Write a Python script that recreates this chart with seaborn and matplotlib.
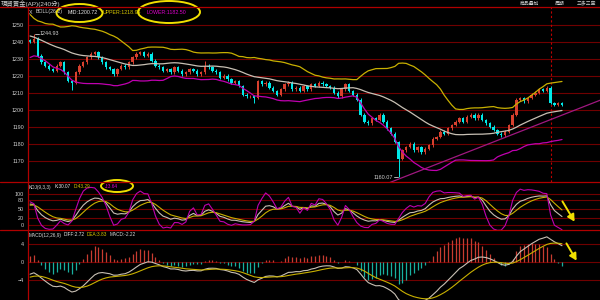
import numpy as np
import pandas as pd
import matplotlib
matplotlib.use("Agg")
import matplotlib.pyplot as plt
import seaborn as sns
from matplotlib.patches import Ellipse, FancyArrowPatch
from matplotlib.lines import Line2D
from matplotlib import font_manager as fm

sns.set_style("dark")
_names = {f.name for f in fm.fontManager.ttflist}
NARROW = "Liberation Sans Narrow" in _names
LAT = "Liberation Sans Narrow" if NARROW else "Liberation Sans"
plt.rcParams['font.family'] = [LAT, 'Noto Sans CJK TC', 'DejaVu Sans']
SCALE = 1.22 if NARROW else 1.0

# ---------------- data ----------------
title_text = "現貨黃金(AP)(240分)"
menu_items = ["商品疊加", "周期", "三多三空"]
menu_x = [520, 555, 577]

# closes before the visible window (only used to warm up the indicators)
pre_closes = [1238, 1240, 1241, 1243, 1242, 1244, 1246, 1245, 1247, 1249,
              1248, 1250, 1252, 1251, 1253, 1255, 1254, 1256, 1258, 1257,
              1259, 1261, 1260, 1262, 1263, 1261, 1262, 1264, 1262, 1260,
              1261, 1259, 1258, 1257,
              1258, 1259, 1256, 1253, 1254, 1251, 1248, 1249, 1246, 1243,
              1244, 1241, 1239, 1240, 1237, 1236, 1238,
              1237, 1239, 1238, 1240, 1241, 1239, 1240, 1242, 1241]

closes = [1240, 1242, 1232, 1228, 1226, 1224, 1223, 1226, 1228, 1222,
          1217, 1216, 1222, 1226, 1228, 1231, 1233, 1234, 1231, 1228,
          1225, 1224, 1221, 1224, 1226, 1225, 1228, 1231, 1233, 1234,
          1232, 1233, 1229, 1226, 1225, 1223, 1224, 1222, 1225, 1223,
          1221, 1222, 1224, 1223, 1221, 1222, 1226, 1225, 1223, 1222,
          1219, 1220, 1218, 1216, 1217, 1214, 1209, 1208, 1208, 1207,
          1217, 1215, 1216, 1213, 1211, 1209, 1212, 1215, 1216, 1212,
          1213, 1211, 1214, 1212, 1215, 1214, 1216, 1215, 1214, 1213,
          1210, 1208, 1212, 1215, 1211, 1209, 1206, 1197, 1193, 1192,
          1195, 1194, 1197, 1193, 1189, 1186, 1181, 1171, 1176, 1178,
          1180, 1176, 1178, 1175, 1177, 1179, 1183, 1184, 1187, 1186,
          1189, 1191, 1193, 1195, 1193, 1196, 1197, 1195, 1197, 1194,
          1192, 1190, 1188, 1186, 1185, 1187, 1191, 1197, 1206, 1207,
          1205, 1207, 1209, 1210, 1212, 1211, 1213, 1204, 1203, 1204,
          1203]

extreme_idx = [1, 11, 46, 59, 97]
extreme_val = [1244.93, 1211.5, 1228.5, 1204.0, 1160.07]
extreme_kind = ["high", "low", "high", "low", "low"]

wick = 0.8

main_ticks = [1170, 1180, 1190, 1200, 1210, 1220, 1230, 1240, 1250]
kdj_ticks = [0, 20, 50, 80, 100]
macd_ticks = [-4, 0, 4]

trend_idx = [94, 150]
trend_val = [1156.5, 1205.6]
cursor_idx = 137

boll_legend = [("X", "#d8d8d8"), ("BOLL(26,2)", "#d8d8d8"), ("MID:1200.72", "#e8e8e8"),
               ("UPPER:1218.94", "#d8c800"), ("LOWER:1182.50", "#e000d0")]
boll_legend_x = [29, 36, 68, 103, 147]
kdj_legend = [("KDJ(9,3,3)", "#d8d8d8"), ("K:30.07", "#e8e8e8"), ("D:43.29", "#d8c800"),
              ("J:3.64", "#e000d0")]
kdj_legend_x = [29, 55, 74, 105]
macd_legend = [("MACD(12,26,9)", "#d8d8d8"), ("DIFF:2.72", "#e8e8e8"), ("DEA:3.83", "#d8c800"),
               ("MACD:-2.22", "#d8d8d8")]
macd_legend_x = [29, 62, 84, 105]

# ---------------- indicators ----------------
all_c = np.array(pre_closes + closes, dtype=float)
all_o = np.concatenate([[all_c[0]], all_c[:-1]])
all_h = np.maximum(all_o, all_c) + wick
all_l = np.minimum(all_o, all_c) - wick
npre = len(pre_closes)
for i, v, k in zip(extreme_idx, extreme_val, extreme_kind):
    if k == "high":
        all_h[npre + i] = v
    else:
        all_l[npre + i] = v

s = pd.Series(all_c)
mid = s.rolling(26, min_periods=1).mean()
sd = s.rolling(26, min_periods=1).std(ddof=0)
upper = mid + 2 * sd
lower = mid - 2 * sd

ema12 = s.ewm(span=12, adjust=False).mean()
ema26 = s.ewm(span=26, adjust=False).mean()
diff = ema12 - ema26
dea = diff.ewm(span=9, adjust=False).mean()
hist = 2 * (diff - dea)

llv = pd.Series(all_l).rolling(9, min_periods=1).min()
hhv = pd.Series(all_h).rolling(9, min_periods=1).max()
rsv = (s - llv) / (hhv - llv) * 100
K = np.zeros(len(s)); D = np.zeros(len(s))
kp, dp = 50.0, 50.0
for i in range(len(s)):
    kp = 2 / 3 * kp + rsv.iloc[i] / 3
    dp = 2 / 3 * dp + kp / 3
    K[i], D[i] = kp, dp
J = 3 * K - 2 * D

n = len(closes)
idx = np.arange(n)
w = slice(npre, npre + n)
o, c, h, l = all_o[w], all_c[w], all_h[w], all_l[w]
df = pd.DataFrame({"i": idx, "upper": upper.values[w], "mid": mid.values[w],
                   "lower": lower.values[w], "K": K[w], "D": D[w], "J": J[w],
                   "diff": diff.values[w], "dea": dea.values[w], "hist": hist.values[w]})

# ---------------- figure ----------------
RED_UP = "#d8402e"
TEAL = "#00e8e8"
GRID = "#700000"
BORDER = "#b00000"
TXT = "#d0d0d0"
YEL = "#c8b000"
WHT = "#c8c0b4"
MAG = "#c000b0"
FS_TICK = 3.9 * SCALE
FS_BOLL = 3.8 * SCALE
FS_IND = 3.4 * SCALE

fig = plt.figure(figsize=(6, 3), dpi=100, facecolor="black")
L = 28 / 600
W = 1 - L
def fy(py):
    return 1 - py / 300

ax1 = fig.add_axes([L, fy(181.5), W, (181.5 - 7) / 300])
ax2 = fig.add_axes([L, fy(230), W, (230 - 181.5) / 300])
ax3 = fig.add_axes([L, 0, W, 70 / 300])
xl = (-0.55, 150.0)
for ax in (ax1, ax2, ax3):
    ax.set_facecolor("black")
    ax.set_xlim(*xl)
    ax.set_xticks([])
    for sp in ax.spines.values():
        sp.set_visible(False)
    ax.tick_params(axis="y", length=0, pad=3, labelsize=FS_TICK, labelcolor=TXT)
    ax.grid(False)

ax1.set_ylim(1157.7, 1260.6)
ax2.set_ylim(-18.0, 141.0)
ax3.set_ylim(-8.55, 7.2)

for t in main_ticks:
    ax1.axhline(t, color=GRID, lw=0.8, zorder=0)
for t in kdj_ticks:
    ax2.axhline(t, color=GRID, lw=0.8, zorder=0)
for t in macd_ticks:
    ax3.axhline(t, color=GRID, lw=0.8, zorder=0)
ax1.set_yticks(main_ticks)
ax2.set_yticks(kdj_ticks)
ax3.set_yticks(macd_ticks)

# candles
up = c >= o
cols = np.where(up, RED_UP, TEAL)
body_bot = np.minimum(o, c)
body_h = np.maximum(np.abs(c - o), 0.35)
ax1.vlines(idx, l, h, colors=cols, lw=0.7, zorder=2)
ax1.bar(idx, body_h, bottom=body_bot, width=0.62, color=cols, lw=0, zorder=3)

sns.lineplot(data=df, x="i", y="upper", ax=ax1, color=YEL, lw=0.9, zorder=4)
sns.lineplot(data=df, x="i", y="mid", ax=ax1, color=WHT, lw=0.9, zorder=4)
sns.lineplot(data=df, x="i", y="lower", ax=ax1, color=MAG, lw=0.9, zorder=4)
ax1.plot(trend_idx, trend_val, color="#a01880", lw=0.9, zorder=4)
ax1.axvline(cursor_idx, color="#c00000", lw=0.8, ls=(0, (2, 2)), zorder=1)

ax1.plot([1.3, 2.4], [1244.93, 1244.93], color=TXT, lw=0.6)
ax1.text(2.6, 1244.93, "1244.93", color=TXT, fontsize=FS_TICK, va="center", ha="left")
ax1.plot([95.8, 96.8], [1160.07, 1160.07], color=TXT, lw=0.6)
ax1.text(95.6, 1160.07, "1160.07", color=TXT, fontsize=FS_TICK, va="center", ha="right")

# KDJ
sns.lineplot(data=df, x="i", y="K", ax=ax2, color=WHT, lw=0.8)
sns.lineplot(data=df, x="i", y="D", ax=ax2, color=YEL, lw=0.8)
sns.lineplot(data=df, x="i", y="J", ax=ax2, color=MAG, lw=0.8)

# MACD
hcols = np.where(df["hist"].values >= 0, "#c83c30", "#18b0a0")
ax3.vlines(idx, 0, df["hist"].values, colors=hcols, lw=0.9)
sns.lineplot(data=df, x="i", y="diff", ax=ax3, color=WHT, lw=0.8)
sns.lineplot(data=df, x="i", y="dea", ax=ax3, color=YEL, lw=0.8)

for ax in (ax1, ax2, ax3):
    ax.set_xlabel("")
    ax.set_ylabel("")
    ax.set_xlim(*xl)

# borders
for py in (7, 181.5, 230):
    fig.add_artist(Line2D([0, 1], [fy(py), fy(py)], transform=fig.transFigure, color=BORDER, lw=0.9))
fig.add_artist(Line2D([L, L], [0, fy(7)], transform=fig.transFigure, color=BORDER, lw=0.9))

# texts, laid out left to right without overlap
renderer = fig.canvas.get_renderer()
def row(items, xs, py, fs, gap=2.0):
    end = -1e9
    for (txt, col), px in zip(items, xs):
        x0 = max(px, end + gap)
        t = fig.text(x0 / 600, fy(py), txt, color=col, fontsize=fs, va="center", ha="left")
        bb = t.get_window_extent(renderer)
        end = bb.x1

fig.text(1 / 600, fy(3.3), title_text, color=TXT, fontsize=4.6, va="center", ha="left")
row([(m, TXT) for m in menu_items], menu_x, 3.3, 3.5)
row(boll_legend, boll_legend_x, 12, FS_BOLL)
row(kdj_legend, kdj_legend_x, 187, FS_IND)
row(macd_legend, macd_legend_x, 235, FS_IND)

# yellow annotations (ellipses, arrows) in pixel space
for cx, cy, ew, eh in [(79.5, 13, 46, 18), (169, 12, 62, 22), (117, 186, 32, 12)]:
    e = Ellipse((cx, 300 - cy), ew, eh, transform=None, fill=False, ec="#f0e000", lw=1.4)
    fig.add_artist(e)
for (x0, y0), (x1, y1) in [((561, 199), (576, 224)), ((565, 241), (578, 263))]:
    fig.add_artist(FancyArrowPatch((x0, 300 - y0), (x1, 300 - y1), transform=None,
                   arrowstyle="-|>,head_length=4,head_width=2.2", color="#f0e000", lw=1.4,
                   mutation_scale=1))

fig.savefig("out.png", dpi=100, facecolor="black")
